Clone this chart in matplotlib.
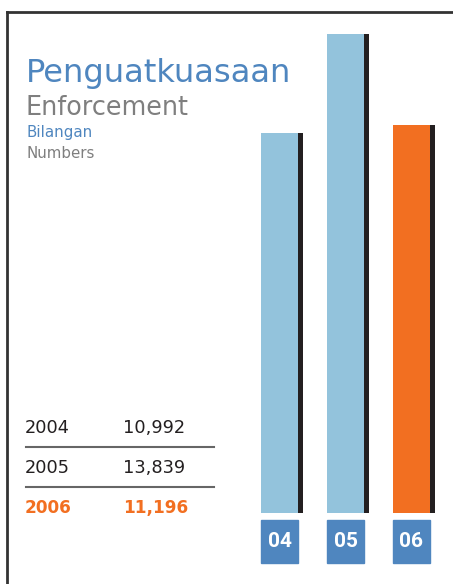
import matplotlib
matplotlib.use("Agg")
import matplotlib.pyplot as plt
from matplotlib.lines import Line2D
from matplotlib.patches import Rectangle
from matplotlib.transforms import blended_transform_factory

# data
years = ["2004", "2005", "2006"]
short_years = ["04", "05", "06"]
counts = [10992, 13839, 11196]
count_labels = ["10,992", "13,839", "11,196"]

BLUE = "#4f86bf"
LIGHT = "#93c3dc"
ORANGE = "#f26f21"
DARK = "#231f20"
GREY = "#7f7f7f"
FONT = "DejaVu Sans"

W, H = 453, 584
fig = plt.figure(figsize=(W / 100, H / 100), dpi=100)


def fx(x):
    return x / W


def fy(y):
    return 1 - y / H


# frame: left and top rule
fig.add_artist(Line2D([fx(7), fx(7)], [fy(12), fy(H + 5)], color="#333333", lw=2))
fig.add_artist(Line2D([fx(7), fx(W + 5)], [fy(12), fy(12)], color="#333333", lw=2))

# headings
fig.text(fx(26), fy(82), "Penguatkuasaan", color=BLUE, fontsize=23.1, family=FONT,
         va="baseline")
fig.text(fx(26), fy(115), "Enforcement", color=GREY, fontsize=18.4, family=FONT,
         va="baseline")
fig.text(fx(26), fy(137), "Bilangan", color=BLUE, fontsize=10.8, family=FONT,
         va="baseline")
fig.text(fx(26), fy(158), "Numbers", color=GREY, fontsize=10.8, family=FONT,
         va="baseline")

# table
row_base = [433, 473, 513]
for i, (yr, lab) in enumerate(zip(years, count_labels)):
    last = i == len(years) - 1
    col = ORANGE if last else DARK
    wt = "bold" if last else "normal"
    fs = 12.2 if last else 12.8
    fig.text(fx(25), fy(row_base[i]), yr, color=col, fontsize=fs, family=FONT,
             weight=wt, va="baseline")
    fig.text(fx(123), fy(row_base[i]), lab, color=col, fontsize=fs, family=FONT,
             weight=wt, va="baseline")
for yl in (447, 487):
    fig.add_artist(Line2D([fx(26), fx(214)], [fy(yl), fy(yl)], color="#666666", lw=1.5))

# bars
top_px, base_px = 34, 513
ymax = 14500
ax_top = base_px - (base_px - top_px) * ymax / max(counts)
ax = fig.add_axes([fx(240), fy(base_px), fx(W) - fx(240), (base_px - ax_top) / H])
ax.set_xlim(-0.598, 2.629)
ax.set_ylim(0, ymax)
ax.axis("off")

pos = list(range(len(counts)))
width = 0.565
colors = [LIGHT, LIGHT, ORANGE]
# dark drop shadow sits just right of each bar
ax.bar([p + 0.08 for p in pos], counts, width=width, color=DARK, zorder=1)
ax.bar(pos, counts, width=width, color=colors, zorder=2)

# year badges under the bars
tr = blended_transform_factory(ax.transData, fig.transFigure)
for p, s in zip(pos, short_years):
    ax.add_patch(Rectangle((p - width / 2, fy(563)), width, fy(520) - fy(563),
                           transform=tr, color=BLUE, clip_on=False))
    ax.text(p, fy(541.5), s, transform=tr, ha="center", va="center", color="white",
            fontsize=15, weight="bold", family="Roboto")

fig.savefig("out.png", dpi=100)
